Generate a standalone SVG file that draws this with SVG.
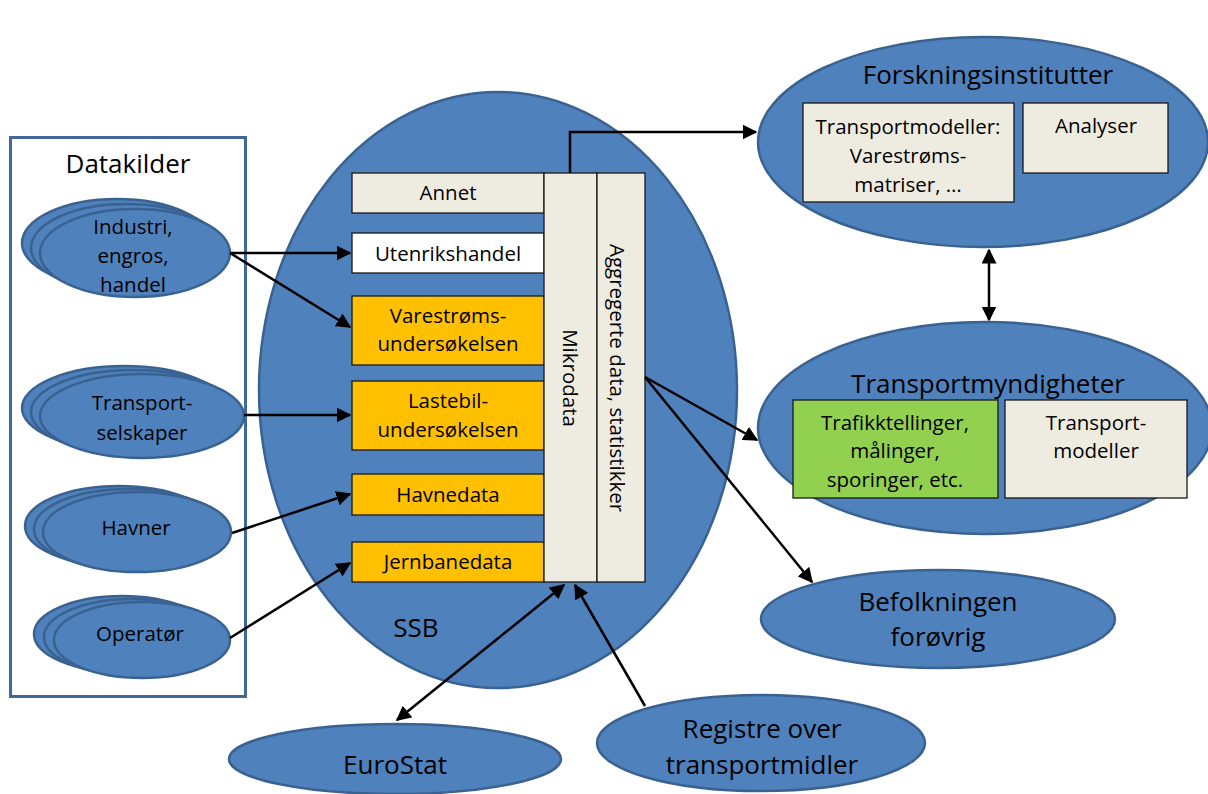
<svg xmlns="http://www.w3.org/2000/svg" width="1208" height="794" viewBox="0 0 1208 794">
  <style>
    text { font-family: "Open Sans", Lato, "Liberation Sans", sans-serif; fill: #000; text-anchor: middle; }
    .ell { fill: #4f81bd; stroke: #3a6291; stroke-width: 2.5; }
    .box { stroke: #1a1a1a; stroke-width: 1.3; }
    .beige { fill: #eeece1; }
    .white { fill: #ffffff; }
    .orange { fill: #ffc000; }
    .green { fill: #92d050; }
    .t19 { font-size: 20.5px; }
    .t24 { font-size: 26px; }
    .conn line, .conn polyline { stroke: #000; stroke-width: 2.5; fill: none; }
  </style>
  <defs>
    <marker id="arrow" viewBox="0 0 10 10" refX="9" refY="5" markerWidth="6" markerHeight="6" orient="auto-start-reverse" markerUnits="strokeWidth">
      <path d="M0,0 L10,5 L0,10 z" fill="#000"/>
    </marker>
  </defs>

  <rect width="1208" height="794" fill="#fff"/>

  <!-- Data sources frame -->
  <g id="datakilder">
    <rect x="10.5" y="137.5" width="235" height="559" fill="none" stroke="#41689a" stroke-width="3"/>
    <text class="t24" x="128" y="173">Datakilder</text>
  </g>

  <g id="industri">
    <ellipse class="ell" cx="117" cy="243" rx="95" ry="44"/>
    <ellipse class="ell" cx="126" cy="248" rx="95" ry="44"/>
    <ellipse class="ell" cx="135" cy="253" rx="95" ry="44"/>
    <text class="t19" x="133" y="234">Industri,</text>
    <text class="t19" x="133" y="263">engros,</text>
    <text class="t19" x="133" y="292">handel</text>
  </g>

  <g id="transportselskaper">
    <ellipse class="ell" cx="124" cy="408" rx="102" ry="42"/>
    <ellipse class="ell" cx="133" cy="412" rx="102" ry="42"/>
    <ellipse class="ell" cx="142" cy="416" rx="102" ry="42"/>
    <text class="t19" x="142" y="410">Transport-</text>
    <text class="t19" x="142" y="440">selskaper</text>
  </g>

  <g id="havner">
    <ellipse class="ell" cx="119" cy="526" rx="94" ry="40"/>
    <ellipse class="ell" cx="128" cy="529" rx="94" ry="40"/>
    <ellipse class="ell" cx="137" cy="532" rx="94" ry="40"/>
    <text class="t19" x="136" y="535">Havner</text>
  </g>

  <g id="operatoer">
    <ellipse class="ell" cx="122" cy="634" rx="88" ry="38"/>
    <ellipse class="ell" cx="132" cy="637" rx="88" ry="38"/>
    <ellipse class="ell" cx="142" cy="640" rx="88" ry="38"/>
    <text class="t19" x="140" y="641">Operatør</text>
  </g>

  <!-- SSB -->
  <g id="ssb">
    <ellipse class="ell" cx="498" cy="390" rx="239" ry="298"/>
    <text class="t24" x="416" y="637">SSB</text>
    <rect class="box beige" x="352" y="173" width="192" height="40"/>
    <text class="t19" x="448" y="200">Annet</text>
    <rect class="box white" x="352" y="233" width="192" height="40"/>
    <text class="t19" x="448" y="261">Utenrikshandel</text>
    <rect class="box orange" x="352" y="296" width="192" height="69"/>
    <text class="t19" x="448" y="323">Varestrøms-</text>
    <text class="t19" x="448" y="351">undersøkelsen</text>
    <rect class="box orange" x="352" y="381" width="192" height="69"/>
    <text class="t19" x="448" y="408">Lastebil-</text>
    <text class="t19" x="448" y="437">undersøkelsen</text>
    <rect class="box orange" x="352" y="474" width="192" height="41"/>
    <text class="t19" x="448" y="502">Havnedata</text>
    <rect class="box orange" x="352" y="542" width="192" height="40"/>
    <text class="t19" x="448" y="569">Jernbanedata</text>
    <rect class="box beige" x="544" y="173" width="53" height="409"/>
    <text class="t19" transform="translate(563,378) rotate(90)">Mikrodata</text>
    <rect class="box beige" x="597" y="173" width="48" height="409"/>
    <text class="t19" transform="translate(610,378) rotate(90)">Aggregerte data, statistikker</text>
  </g>

  <!-- Research institutes -->
  <g id="forskningsinstitutter">
    <ellipse class="ell" cx="983" cy="142" rx="225" ry="105"/>
    <text class="t24" x="988" y="84">Forskningsinstitutter</text>
    <rect class="box beige" x="803" y="103" width="211" height="99"/>
    <text class="t19" x="908" y="134">Transportmodeller:</text>
    <text class="t19" x="908" y="163">Varestrøms-</text>
    <text class="t19" x="908" y="192">matriser, …</text>
    <rect class="box beige" x="1023" y="103" width="145" height="70"/>
    <text class="t19" x="1096" y="133">Analyser</text>
  </g>

  <!-- Transport authorities -->
  <g id="transportmyndigheter">
    <ellipse class="ell" cx="985" cy="428" rx="227" ry="106"/>
    <text class="t24" x="988" y="393">Transportmyndigheter</text>
    <rect class="box green" x="793" y="400" width="205" height="98"/>
    <text class="t19" x="895" y="430">Trafikktellinger,</text>
    <text class="t19" x="895" y="458">målinger,</text>
    <text class="t19" x="895" y="487">sporinger, etc.</text>
    <rect class="box beige" x="1005" y="400" width="182" height="98"/>
    <text class="t19" x="1096" y="430">Transport-</text>
    <text class="t19" x="1096" y="458">modeller</text>
  </g>

  <g id="befolkningen">
    <ellipse class="ell" cx="938" cy="619" rx="177" ry="49"/>
    <text class="t24" x="938" y="611">Befolkningen</text>
    <text class="t24" x="938" y="646">forøvrig</text>
  </g>

  <g id="eurostat">
    <ellipse class="ell" cx="395" cy="759" rx="166" ry="35"/>
    <text class="t24" x="395" y="774">EuroStat</text>
  </g>

  <g id="registre">
    <ellipse class="ell" cx="761" cy="743" rx="164" ry="48"/>
    <text class="t24" x="762" y="738">Registre over</text>
    <text class="t24" x="762" y="774">transportmidler</text>
  </g>

  <!-- Connectors -->
  <g id="connectors" class="conn">
    <line x1="230" y1="253" x2="350" y2="253" marker-end="url(#arrow)"/>
    <line x1="230" y1="253" x2="350" y2="327" marker-end="url(#arrow)"/>
    <line x1="244" y1="415" x2="350" y2="415" marker-end="url(#arrow)"/>
    <line x1="232" y1="533" x2="350" y2="494" marker-end="url(#arrow)"/>
    <line x1="230" y1="638" x2="350" y2="563" marker-end="url(#arrow)"/>
    <polyline points="570,173 570,132 756,132" marker-end="url(#arrow)"/>
    <line x1="989" y1="250" x2="989" y2="320" marker-start="url(#arrow)" marker-end="url(#arrow)"/>
    <line x1="645" y1="377" x2="757" y2="440" marker-end="url(#arrow)"/>
    <line x1="645" y1="377" x2="812" y2="582" marker-end="url(#arrow)"/>
    <line x1="397" y1="720" x2="564" y2="585" marker-start="url(#arrow)" marker-end="url(#arrow)"/>
    <line x1="645" y1="706" x2="575" y2="585" marker-end="url(#arrow)"/>
  </g>
</svg>
